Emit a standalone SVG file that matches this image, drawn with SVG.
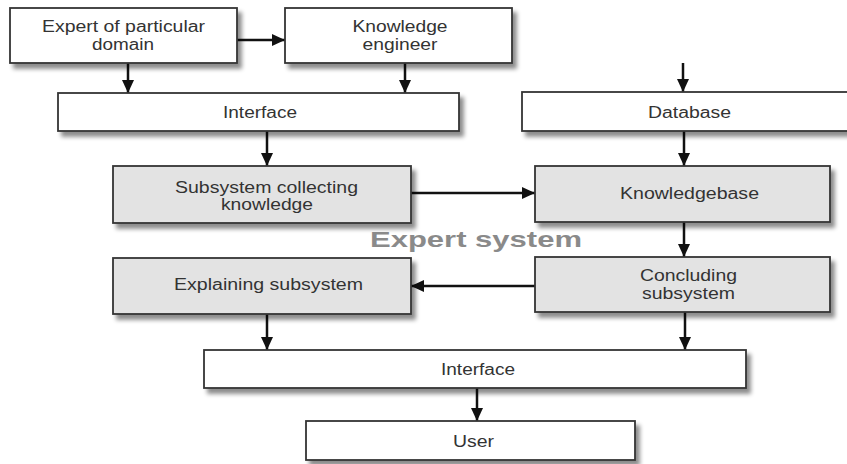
<svg xmlns="http://www.w3.org/2000/svg" width="847" height="464" viewBox="0 0 847 464">
<style>
.box{stroke:#333;stroke-width:1.8;filter:url(#sh)}
.w{fill:#fff}
.g{fill:#e3e3e3}
.t{font-family:"Liberation Sans",Arial,sans-serif;font-size:16px;fill:#333;text-anchor:middle}
.c{stroke:#111;stroke-width:2.5;fill:none;marker-end:url(#ah)}
.big{font-family:"Liberation Sans",Arial,sans-serif;font-size:22px;font-weight:bold;fill:#8a8a8a;text-anchor:middle}
</style>
<defs>
<filter id="sh" x="-5%" y="-20%" width="115%" height="150%">
<feGaussianBlur in="SourceAlpha" stdDeviation="2"/>
<feOffset dx="4" dy="5" result="b"/>
<feFlood flood-color="#000" flood-opacity="0.45"/>
<feComposite in2="b" operator="in"/>
<feMerge><feMergeNode/><feMergeNode in="SourceGraphic"/></feMerge>
</filter>
<marker id="ah" markerUnits="userSpaceOnUse" markerWidth="14" markerHeight="13" refX="13" refY="6" orient="auto">
<path d="M0,0 L13,6 L0,12 z" fill="#111"/>
</marker>
</defs>
<rect width="847" height="464" fill="#fff"/>
<g id="connectors">
<line class="c" x1="237" y1="40" x2="285" y2="40"/>
<line class="c" x1="128" y1="63" x2="128" y2="93"/>
<line class="c" x1="405" y1="63" x2="405" y2="93"/>
<line class="c" x1="683" y1="63" x2="683" y2="92"/>
<line class="c" x1="267" y1="131" x2="267" y2="166"/>
<line class="c" x1="684" y1="131" x2="684" y2="166"/>
<line class="c" x1="411" y1="193" x2="535" y2="193"/>
<line class="c" x1="684" y1="222" x2="684" y2="257"/>
<line class="c" x1="535" y1="286" x2="411" y2="286"/>
<line class="c" x1="267" y1="314" x2="267" y2="350"/>
<line class="c" x1="685" y1="312" x2="685" y2="350"/>
<line class="c" x1="477" y1="388" x2="477" y2="421"/>
</g>
<g id="expert">
<rect class="box w" x="10" y="8" width="227" height="55"/>
<text class="t" x="123.5" y="32" textLength="163" lengthAdjust="spacingAndGlyphs">Expert of particular</text>
<text class="t" x="123" y="50" textLength="62" lengthAdjust="spacingAndGlyphs">domain</text>
</g>
<g id="engineer">
<rect class="box w" x="285" y="8" width="227" height="55"/>
<text class="t" x="400" y="32" textLength="95" lengthAdjust="spacingAndGlyphs">Knowledge</text>
<text class="t" x="400" y="50" textLength="75" lengthAdjust="spacingAndGlyphs">engineer</text>
</g>
<g id="interface1">
<rect class="box w" x="58" y="93" width="401" height="38"/>
<text class="t" x="260" y="118" textLength="74" lengthAdjust="spacingAndGlyphs">Interface</text>
</g>
<g id="database">
<rect class="box w" x="522" y="92" width="340" height="39"/>
<text class="t" x="689.5" y="118" textLength="83" lengthAdjust="spacingAndGlyphs">Database</text>
</g>
<g id="collecting">
<rect class="box g" x="113" y="166" width="298" height="57"/>
<text class="t" x="266.5" y="193" textLength="183" lengthAdjust="spacingAndGlyphs">Subsystem collecting</text>
<text class="t" x="267" y="210" textLength="92" lengthAdjust="spacingAndGlyphs">knowledge</text>
</g>
<g id="knowledgebase">
<rect class="box g" x="535" y="166" width="295" height="56"/>
<text class="t" x="689.5" y="199" textLength="139" lengthAdjust="spacingAndGlyphs">Knowledgebase</text>
</g>
<text class="big" x="476" y="247" textLength="212" lengthAdjust="spacingAndGlyphs">Expert system</text>
<g id="explaining">
<rect class="box g" x="113" y="258" width="298" height="56"/>
<text class="t" x="268.5" y="290" textLength="189" lengthAdjust="spacingAndGlyphs">Explaining subsystem</text>
</g>
<g id="concluding">
<rect class="box g" x="535" y="257" width="295" height="55"/>
<text class="t" x="688.5" y="281" textLength="97" lengthAdjust="spacingAndGlyphs">Concluding</text>
<text class="t" x="688.5" y="299" textLength="93" lengthAdjust="spacingAndGlyphs">subsystem</text>
</g>
<g id="interface2">
<rect class="box w" x="204" y="350" width="542" height="38"/>
<text class="t" x="478" y="375" textLength="74" lengthAdjust="spacingAndGlyphs">Interface</text>
</g>
<g id="user">
<rect class="box w" x="306" y="421" width="329" height="39"/>
<text class="t" x="473.5" y="447" textLength="41" lengthAdjust="spacingAndGlyphs">User</text>
</g>
</svg>
